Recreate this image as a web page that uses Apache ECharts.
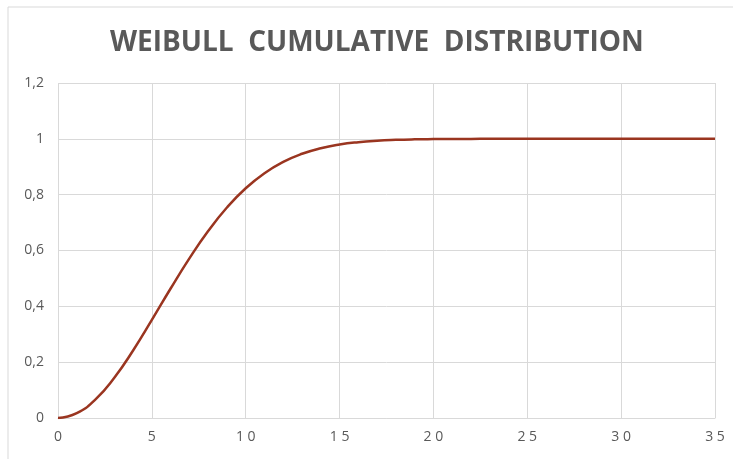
<!DOCTYPE html>
<html>
<head>
<meta charset="utf-8">
<script src="https://cdn.jsdelivr.net/npm/echarts@6/dist/echarts.min.js"></script>
<style>html,body{margin:0;padding:0;background:#fff}#c{width:733px;height:459px}</style>
</head>
<body>
<div id="c"></div>
<script>
const titleText = 'WEIBULL  CUMULATIVE  DISTRIBUTION';
const xValues = [0,1,2,3,4,5,6,7,8,9,10,11,12,13,14,15,16,17,18,19,20,21,22,23,24,25,26,27,28,29,30,31,32,33,34,35];
const yValues = [0,0.0172,0.0669,0.1443,0.2419,0.3513,0.4638,0.5719,0.6698,0.7540,0.8229,0.8769,0.9174,0.9464,0.9664,0.9797,0.9881,0.9933,0.9963,0.9981,0.9990,0.9995,0.9998,0.9999,1,1,1,1,1,1,1,1,1,1,1,1];
const xTicks = [0,5,10,15,20,25,30,35];
const yTicks = [0,0.2,0.4,0.6,0.8,1,1.2];

const chart = echarts.init(document.getElementById('c'));
const pts = xValues.map((x,i)=>[x,yValues[i]]);
chart.setOption({
  animation:false,
  graphic:[{type:'rect',shape:{x:8,y:7,width:800,height:600},style:{fill:'none',stroke:'#d9d9d9',lineWidth:1},silent:true}],
  title:{text:titleText,left:105,top:24,textStyle:{fontFamily:'Open Sans',fontWeight:'bold',fontSize:28,color:'#595959'}},
  grid:{left:58,right:18,top:83,bottom:41},
  xAxis:{type:'value',min:0,max:35,interval:5,
    axisLine:{show:true,lineStyle:{color:'#d9d9d9'}},axisTick:{show:false},
    splitLine:{show:true,lineStyle:{color:'#d9d9d9'}},
    axisLabel:{color:'#595959',fontSize:14,fontFamily:'Open Sans',margin:12,
      formatter:v=>xTicks.includes(v)?String(v).split('').join(' '):''}},
  yAxis:{type:'value',min:0,max:1.2,interval:0.2,
    axisLine:{show:false},axisTick:{show:false},
    splitLine:{show:true,lineStyle:{color:'#d9d9d9'}},
    axisLabel:{color:'#595959',fontSize:14,fontFamily:'Open Sans',margin:14,
      formatter:v=>{const t=yTicks.find(k=>Math.abs(k-v)<1e-9);return t===undefined?'':String(+t.toFixed(1)).replace('.',',');}}},
  series:[{type:'line',data:pts,smooth:true,showSymbol:false,
    lineStyle:{color:'#9a3520',width:2.5}}]
});
</script>
</body>
</html>
